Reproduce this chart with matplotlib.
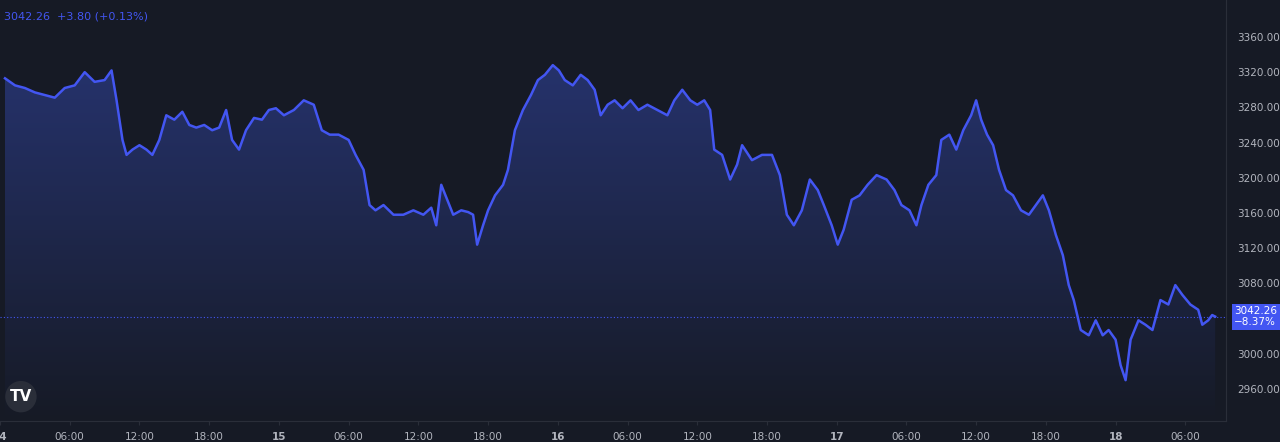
import matplotlib
matplotlib.use("Agg")
import matplotlib.pyplot as plt
import numpy as np
from matplotlib.patches import Polygon
from matplotlib.colors import LinearSegmentedColormap

hours = [0.43,1.29,2.14,3.0,3.86,4.71,5.57,6.43,7.29,8.14,9.0,9.6,10.03,10.54,10.89,11.4,12.0,12.6,13.11,13.71,14.31,15.0,15.69,16.29,16.89,17.57,18.26,18.86,19.46,19.97,20.57,21.17,21.86,22.54,23.14,23.74,24.43,25.29,26.14,27.0,27.69,28.37,29.14,30.0,30.6,31.29,31.8,32.31,33.0,33.86,34.71,35.57,36.43,37.11,37.54,37.97,38.49,39.0,39.69,40.29,40.71,41.06,41.57,42.0,42.6,43.29,43.71,44.31,45.0,45.69,46.29,46.89,47.57,48.09,48.6,49.29,49.97,50.57,51.17,51.69,52.29,52.89,53.57,54.26,54.94,55.71,56.57,57.43,58.03,58.71,59.4,60.0,60.6,61.11,61.46,62.14,62.83,63.43,63.86,64.71,65.57,66.43,67.11,67.71,68.31,69.0,69.69,70.37,70.89,71.57,72.09,72.6,73.29,73.97,74.66,75.43,76.29,76.97,77.57,78.26,78.86,79.29,79.89,80.57,81.0,81.69,82.29,82.89,83.57,84.0,84.43,84.94,85.46,85.97,86.57,87.17,87.86,88.54,89.14,89.74,90.26,90.86,91.46,91.97,92.4,93.0,93.69,94.29,94.89,95.4,96.0,96.43,96.86,97.29,97.97,98.57,99.17,99.86,100.54,101.14,101.74,102.43,103.11,103.46,103.97,104.31,104.57]
prices = [3313,3305,3302,3297,3294,3291,3302,3305,3320,3309,3311,3322,3288,3243,3226,3232,3237,3232,3226,3243,3271,3266,3275,3260,3257,3260,3254,3257,3277,3243,3232,3254,3268,3266,3277,3279,3271,3277,3288,3283,3254,3249,3249,3243,3226,3209,3169,3163,3169,3158,3158,3163,3158,3166,3146,3192,3175,3158,3163,3161,3158,3124,3146,3163,3180,3192,3209,3254,3277,3294,3311,3317,3328,3322,3311,3305,3317,3311,3300,3271,3283,3288,3279,3288,3277,3283,3277,3271,3288,3300,3288,3283,3288,3277,3232,3226,3198,3215,3237,3220,3226,3226,3203,3158,3146,3163,3198,3186,3169,3146,3124,3141,3175,3180,3192,3203,3198,3186,3169,3163,3146,3169,3192,3203,3243,3249,3232,3254,3271,3288,3266,3249,3237,3209,3186,3180,3163,3158,3169,3180,3163,3135,3112,3078,3061,3027,3021,3038,3021,3027,3016,2987,2970,3016,3038,3033,3027,3061,3056,3078,3067,3056,3050,3033,3038,3044,3042.26]
ytick_vals = [2960,3000,3040,3080,3120,3160,3200,3240,3280,3320,3360]
xtick_hours = [0,6,12,18,24,30,36,42,48,54,60,66,72,78,84,90,96,102]
xtick_labels = ["14","06:00","12:00","18:00","15","06:00","12:00","18:00","16","06:00","12:00","18:00","17","06:00","12:00","18:00","18","06:00"]
last_price = 3042.26
header = "3042.26  +3.80 (+0.13%)"
change_pct = "−8.37%"

BG = "#161a25"; LINE = "#4356f2"; TXT = "#b2b5be"; GRID = "#2a2e39"
fig = plt.figure(figsize=(12.8, 4.42), dpi=100, facecolor=BG)
ax = fig.add_axes([0, 21/442, 1226/1280, 421/442])
ax.set_facecolor(BG)
x0, x1, y0, y1 = 0.43, 105.5, 2923.6, 3402
ax.set_xlim(x0, x1); ax.set_ylim(y0, y1)

grad = np.linspace(0, 1, 256).reshape(-1, 1)
cmap = LinearSegmentedColormap.from_list("g", [(0, BG), (1, "#26336e")])
im = ax.imshow(grad, extent=[x0, x1, y0, 3340], origin="lower", aspect="auto", cmap=cmap, zorder=1)
poly = Polygon(list(zip(hours, prices)) + [(hours[-1], y0), (hours[0], y0)], closed=True, transform=ax.transData)
im.set_clip_path(poly)
ax.plot(hours, prices, color=LINE, lw=1.8, zorder=3)
ax.axhline(last_price, color=LINE, lw=0.8, ls=(0, (1, 2)), zorder=2)

for s in ax.spines.values(): s.set_visible(False)
ax.spines["right"].set_visible(True); ax.spines["right"].set_color(GRID)
ax.spines["bottom"].set_visible(True); ax.spines["bottom"].set_color(GRID)
ax.yaxis.tick_right()
ax.set_yticks(ytick_vals)
ax.set_yticklabels([f"{v:.2f}" for v in ytick_vals])
ax.set_xticks(xtick_hours)
ax.set_xticklabels(xtick_labels)
for lab in ax.get_xticklabels():
    if ":" not in lab.get_text(): lab.set_fontweight("bold")
ax.tick_params(colors=TXT, labelsize=7.5, length=3, color=GRID, pad=5)
ax.tick_params(axis="y", length=0, pad=8)

ax.text(0.003, 0.96, header, transform=ax.transAxes, color=LINE, fontsize=8, va="center")
ax.annotate(f"{last_price:.2f}\n{change_pct}", xy=(1.0, last_price), xycoords=("axes fraction", "data"),
            xytext=(6, 0), textcoords="offset points", va="center", ha="left", color="white", fontsize=7.5,
            linespacing=1.1, bbox=dict(boxstyle="square,pad=0.25", fc=LINE, ec="none"), annotation_clip=False)
ax.text(0.008, 0.04, "TV", transform=ax.transAxes, color="white", fontsize=11, fontweight="bold", va="bottom",
        bbox=dict(boxstyle="circle,pad=0.3", fc="#2a2e39", ec="none"))
fig.savefig("out.png", dpi=100, facecolor=BG)
